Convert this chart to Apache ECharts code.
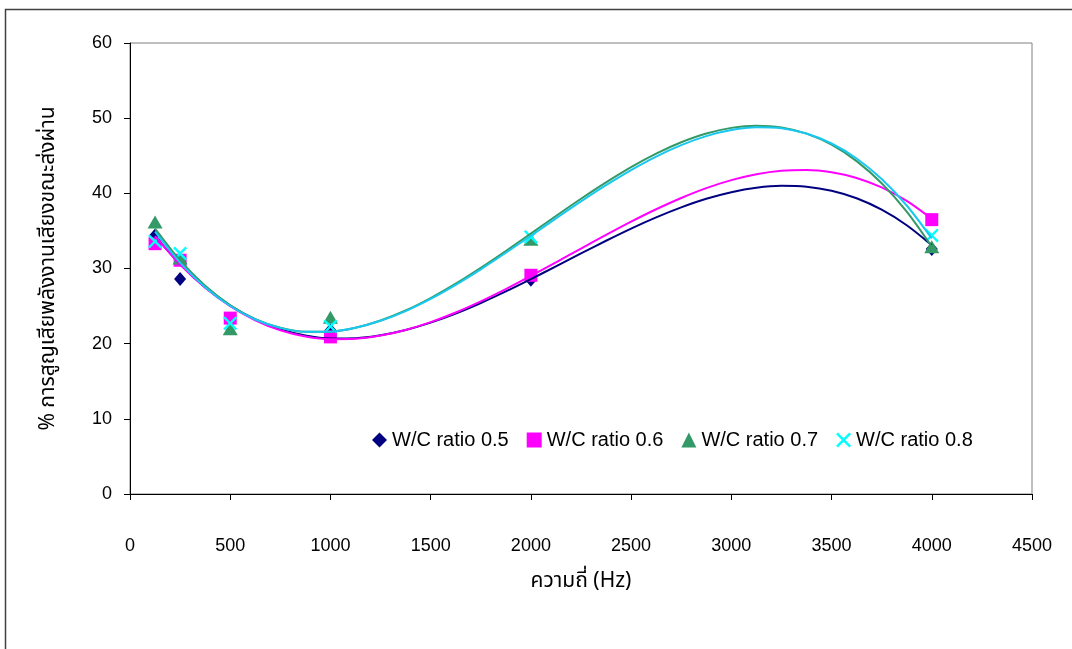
<!DOCTYPE html>
<html>
<head>
<meta charset="utf-8">
<script src="https://cdn.jsdelivr.net/npm/echarts@6/dist/echarts.min.js"></script>
<style>html,body{margin:0;padding:0;background:#fff;}#c{width:1072px;height:649px;}</style>
</head>
<body>
<div id="c"></div>
<script>
// Measured points
var freqs = [125, 250, 500, 1000, 2000, 4000];
var wc05 = [34.4, 28.6, 23.0, 21.8, 28.5, 32.6];
var wc06 = [33.3, 31.1, 23.4, 20.9, 29.1, 36.5];
var wc07 = [36.2, 31.4, 22.0, 23.5, 33.9, 32.9];
var wc08 = [33.6, 32.0, 22.7, 22.3, 34.2, 34.4];
// Trendline values (every 125 Hz)
var trendX = [125, 250, 375, 500, 625, 750, 875, 1000, 1125, 1250, 1375, 1500, 1625, 1750, 1875, 2000,
              2125, 2250, 2375, 2500, 2625, 2750, 2875, 3000, 3125, 3250, 3375, 3500, 3625, 3750, 3875, 4000];
var trend05 = [34.30, 30.58, 27.52, 25.08, 23.23, 21.91, 21.08, 20.70, 20.73, 21.11, 21.82, 22.80, 24.01, 25.41, 26.95, 28.59,
               30.29, 32.01, 33.69, 35.31, 36.80, 38.13, 39.27, 40.15, 40.74, 41.00, 40.88, 40.34, 39.34, 37.82, 35.76, 33.10];
var trend06 = [34.30, 30.53, 27.44, 24.98, 23.11, 21.78, 20.96, 20.60, 20.65, 21.08, 21.83, 22.87, 24.15, 25.63, 27.26, 29.01,
               30.82, 32.66, 34.47, 36.23, 37.88, 39.38, 40.69, 41.76, 42.55, 43.02, 43.12, 42.81, 42.05, 40.79, 38.99, 36.60];
var trend07 = [35.30, 31.06, 27.69, 25.11, 23.27, 22.12, 21.58, 21.60, 22.12, 23.08, 24.41, 26.07, 27.98, 30.09, 32.33, 34.65,
               36.99, 39.28, 41.46, 43.49, 45.28, 46.79, 47.96, 48.71, 49.00, 48.77, 47.94, 46.47, 44.29, 41.34, 37.56, 32.90];
var trend08 = [34.90, 30.79, 27.51, 25.01, 23.22, 22.10, 21.58, 21.60, 22.11, 23.04, 24.34, 25.96, 27.83, 29.89, 32.09, 34.36,
               36.66, 38.92, 41.08, 43.09, 44.89, 46.41, 47.61, 48.42, 48.79, 48.65, 47.95, 46.63, 44.64, 41.90, 38.38, 34.00];
var seriesNames = ['W/C ratio 0.5', 'W/C ratio 0.6', 'W/C ratio 0.7', 'W/C ratio 0.8'];
var xTicks = [0, 500, 1000, 1500, 2000, 2500, 3000, 3500, 4000, 4500];
var yTicks = [0, 10, 20, 30, 40, 50, 60];
var xName = 'ความถี่ (Hz)';
var yName = '% การสูญเสียพลังงานเสียงขณะส่งผ่าน';

function pairs(xs, ys) { return xs.map(function (x, i) { return [x, ys[i]]; }); }

var crossPath = 'path://M0,1.2 L1.2,0 L5,3.8 L8.8,0 L10,1.2 L6.2,5 L10,8.8 L8.8,10 L5,6.2 L1.2,10 L0,8.8 L3.8,5 Z';
var markerColors = ['#000080', '#ff00ff', '#339966', '#00ffff'];
var lineColors = ['#000080', '#ff00ff', '#339966', '#18c8f0'];
var symbols = ['diamond', 'rect', 'triangle', crossPath];
var symbolSizes = [[12, 14], 13, [15, 13], 14];
var pts = [wc05, wc06, wc07, wc08];
var trends = [trend05, trend06, trend07, trend08];
var font = 'Liberation Sans, Arial, Noto Sans, sans-serif';
var thaiFont = 'Noto Sans Thai, Loma, Garuda, Liberation Sans, Noto Sans, DejaVu Sans, sans-serif';

var series = [];
for (var i = 0; i < 4; i++) {
  series.push({
    name: seriesNames[i], type: 'scatter', data: pairs(freqs, pts[i]),
    symbol: symbols[i], symbolSize: symbolSizes[i],
    itemStyle: { color: markerColors[i], opacity: 1 }, z: 3, silent: true
  });
}
for (var j = 0; j < 4; j++) {
  series.push({
    name: 'trend' + j, type: 'line', data: pairs(trendX, trends[j]),
    smooth: 0.3, showSymbol: false, symbol: 'none',
    lineStyle: { color: lineColors[j], width: 2 }, z: 4, silent: true
  });
}

var chart = echarts.init(document.getElementById('c'), null, { renderer: 'canvas' });
chart.setOption({
  animation: false,
  backgroundColor: '#ffffff',
  graphic: [{
    type: 'rect', shape: { x: 5.5, y: 9.5, width: 1200, height: 800 },
    style: { fill: 'none', stroke: '#404040', lineWidth: 1.5 }, silent: true
  }],
  grid: { left: 130, top: 43, right: 40, bottom: 155, show: true, borderColor: '#808080', borderWidth: 1, backgroundColor: 'transparent' },
  legend: {
    data: seriesNames.map(function (n, k) { return { name: n, icon: symbols[k] }; }),
    left: 367, top: 425, itemWidth: 15, itemHeight: 15, itemGap: 18,
    textStyle: { fontFamily: font, fontSize: 20, color: '#000' }
  },
  xAxis: {
    type: 'value', min: 0, max: 4500, interval: 500,
    name: xName, nameLocation: 'middle', nameGap: 78,
    nameTextStyle: { fontFamily: thaiFont, fontSize: 21, color: '#000' },
    axisLine: { show: true, lineStyle: { color: '#000', width: 1 } },
    axisTick: { show: true, length: 6, lineStyle: { color: '#000' } },
    axisLabel: { margin: 43, fontFamily: font, fontSize: 18, color: '#000',
      formatter: function (v) { return xTicks.indexOf(v) >= 0 ? String(v) : ''; } },
    splitLine: { show: false }
  },
  yAxis: {
    type: 'value', min: 0, max: 60, interval: 10,
    name: yName, nameLocation: 'middle', nameGap: 70, nameRotate: 90,
    nameTextStyle: { fontFamily: thaiFont, fontSize: 21, color: '#000' },
    axisLine: { show: true, lineStyle: { color: '#000', width: 1 } },
    axisTick: { show: true, length: 6, lineStyle: { color: '#000' } },
    axisLabel: { margin: 18, fontFamily: font, fontSize: 18, color: '#000',
      formatter: function (v) { return yTicks.indexOf(v) >= 0 ? String(v) : ''; } },
    splitLine: { show: false }
  },
  series: series
});
</script>
</body>
</html>
